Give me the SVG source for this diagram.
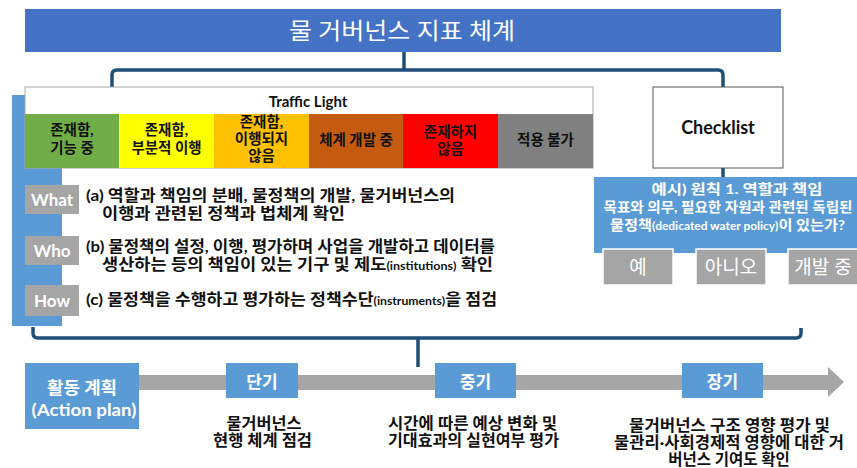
<svg xmlns="http://www.w3.org/2000/svg" width="857" height="468" viewBox="0 0 857 468">
<style>
text{font-family:Lato,"Noto Sans CJK KR",sans-serif}
.w{fill:#fff}
.mid{text-anchor:middle}
.cell{font-size:14.5px;font-weight:bold;fill:#111;text-anchor:middle}
.desc{font-size:15.5px;font-weight:bold;fill:#111}
.cap{font-size:15.5px;font-weight:bold;fill:#111;text-anchor:middle}
.sm{font-size:11px}
.conn{fill:none;stroke:#1F4E79;stroke-width:3.5;stroke-linejoin:round}
.blue{fill:#5B9BD5}
.gbox{fill:#A5A5A5}
.btn{fill:#A5A5A5;stroke:#fff;stroke-width:1.5}
.lbl{font-size:17px;font-weight:bold;fill:#fff;text-anchor:middle}
.btxt{font-size:19px;fill:#fff;text-anchor:middle}
.ex{font-size:14px;font-weight:bold;fill:#fff;text-anchor:middle}
</style>
<rect width="857" height="468" fill="#fff"/>

<g id="connectors">
<path class="conn" d="M404 52 V70"/>
<path class="conn" d="M112 88 V75 Q112 70 117 70 H718 Q723 70 723 75 V88"/>
<path class="conn" d="M723 168 V177"/>
<path class="conn" d="M33 327 V333 Q33 338 38 338 H796 Q801 338 801 333 V328"/>
<path class="conn" d="M418 338 V367"/>
</g>

<g id="title">
<rect x="25" y="9" width="756" height="43" fill="#4472C4"/>
<text x="402" y="39" class="w mid" font-size="23" textLength="226" lengthAdjust="spacingAndGlyphs">물 거버넌스 지표 체계</text>
</g>

<g id="side-bar">
<path class="blue" d="M12 95 H25 V168 H62 V326 H12 Z"/>
</g>

<g id="traffic-light">
<rect x="25" y="87" width="568" height="81" fill="#fff" stroke="#A6A6A6" stroke-width="1"/>
<text x="308" y="107" font-size="15" font-weight="bold" fill="#111" class="mid">Traffic Light</text>
<rect x="25" y="114" width="94" height="54" fill="#70AD47"/>
<rect x="119" y="114" width="95" height="54" fill="#FFFF00"/>
<rect x="214" y="114" width="95" height="54" fill="#FFC000"/>
<rect x="309" y="114" width="94" height="54" fill="#C55A11"/>
<rect x="403" y="114" width="95" height="54" fill="#FF0000"/>
<rect x="498" y="114" width="95" height="54" fill="#808080"/>
<text class="cell" x="72" y="135">존재함,</text>
<text class="cell" x="72" y="153">기능 중</text>
<text class="cell" x="166.5" y="135">존재함,</text>
<text class="cell" x="166.5" y="153">부분적 이행</text>
<text class="cell" x="261.5" y="127">존재함,</text>
<text class="cell" x="261.5" y="144">이행되지</text>
<text class="cell" x="261.5" y="161">않음</text>
<text class="cell" x="356" y="145">체계 개발 중</text>
<text class="cell" x="450.5" y="137">존재하지</text>
<text class="cell" x="450.5" y="154">않음</text>
<text class="cell" x="545.5" y="145">적용 불가</text>
</g>

<g id="what">
<rect class="gbox" x="25" y="185" width="54" height="29"/>
<text class="lbl" x="52" y="205.5">What</text>
<text class="desc" x="86" y="201" textLength="369" lengthAdjust="spacingAndGlyphs">(a) 역할과 책임의 분배, 물정책의 개발, 물거버넌스의</text>
<text class="desc" x="102" y="219" textLength="243" lengthAdjust="spacingAndGlyphs">이행과 관련된 정책과 법체계 확인</text>
</g>
<g id="who">
<rect class="gbox" x="25" y="236" width="54" height="29"/>
<text class="lbl" x="52" y="256.5">Who</text>
<text class="desc" x="86" y="252" textLength="409" lengthAdjust="spacingAndGlyphs">(b) 물정책의 설정, 이행, 평가하며 사업을 개발하고 데이터를</text>
<text class="desc" x="102" y="270" textLength="391" lengthAdjust="spacingAndGlyphs">생산하는 등의 책임이 있는 기구 및 제도<tspan class="sm">(institutions)</tspan> 확인</text>
</g>
<g id="how">
<rect class="gbox" x="25" y="285" width="54" height="31"/>
<text class="lbl" x="52" y="306.5">How</text>
<text class="desc" x="86" y="305" textLength="411" lengthAdjust="spacingAndGlyphs">(c) 물정책을 수행하고 평가하는 정책수단<tspan class="sm">(instruments)</tspan>을 점검</text>
</g>

<g id="checklist">
<rect x="653" y="87" width="130" height="81" fill="#fff" stroke="#595959" stroke-width="1"/>
<text x="718" y="134" font-size="18" font-weight="bold" fill="#111" class="mid">Checklist</text>
</g>

<g id="example">
<rect class="blue" x="594" y="177" width="263" height="76"/>
<text class="ex" x="737" y="194" textLength="171" lengthAdjust="spacingAndGlyphs">예시) 원칙 1. 역할과 책임</text>
<text class="ex" x="728" y="212" textLength="249" lengthAdjust="spacingAndGlyphs">목표와 의무, 필요한 자원과 관련된 독립된</text>
<text class="ex" x="727.5" y="230" textLength="235" lengthAdjust="spacingAndGlyphs">물정책<tspan class="sm">(dedicated water policy)</tspan>이 있는가?</text>
</g>
<g id="btn-yes">
<rect class="btn" x="603" y="249" width="70" height="36"/>
<text class="btxt" x="638" y="274">예</text>
</g>
<g id="btn-no">
<rect class="btn" x="696" y="249" width="70" height="36"/>
<text class="btxt" x="731" y="274">아니오</text>
</g>
<g id="btn-dev">
<rect class="btn" x="788" y="249" width="70" height="36"/>
<text class="btxt" x="823" y="274">개발 중</text>
</g>

<g id="timeline">
<rect x="139" y="375" width="689" height="15" fill="#A6A6A6"/>
<polygon points="828,367 844,382 828,397" fill="#A6A6A6"/>
</g>

<g id="action-plan">
<rect class="blue" x="25" y="363" width="114" height="66"/>
<text class="lbl" x="82" y="394" font-size="18" textLength="70" lengthAdjust="spacingAndGlyphs">활동 계획</text>
<text class="lbl" x="84" y="416" font-size="18" textLength="105" lengthAdjust="spacingAndGlyphs">(Action plan)</text>
</g>
<g id="short">
<rect class="blue" x="226" y="363" width="72" height="35"/>
<text class="lbl" x="262" y="388" font-size="18">단기</text>
<text class="cap" x="264" y="429" textLength="75" lengthAdjust="spacingAndGlyphs">물거버넌스</text>
<text class="cap" x="262.5" y="446" textLength="99" lengthAdjust="spacingAndGlyphs">현행 체계 점검</text>
</g>
<g id="mid">
<rect class="blue" x="435" y="363" width="81" height="35"/>
<text class="lbl" x="475.5" y="388" font-size="18">중기</text>
<text class="cap" x="472.5" y="429" textLength="169" lengthAdjust="spacingAndGlyphs">시간에 따른 예상 변화 및</text>
<text class="cap" x="473.5" y="446" textLength="171" lengthAdjust="spacingAndGlyphs">기대효과의 실현여부 평가</text>
</g>
<g id="long">
<rect class="blue" x="682" y="363" width="81" height="35"/>
<text class="lbl" x="722.5" y="388" font-size="18">장기</text>
<text class="cap" x="729.5" y="431" textLength="201" lengthAdjust="spacingAndGlyphs">물거버넌스 구조 영향 평가 및</text>
<text class="cap" x="729" y="448" textLength="230" lengthAdjust="spacingAndGlyphs">물관리·사회경제적 영향에 대한 거</text>
<text class="cap" x="729" y="465">버넌스 기여도 확인</text>
</g>
</svg>
